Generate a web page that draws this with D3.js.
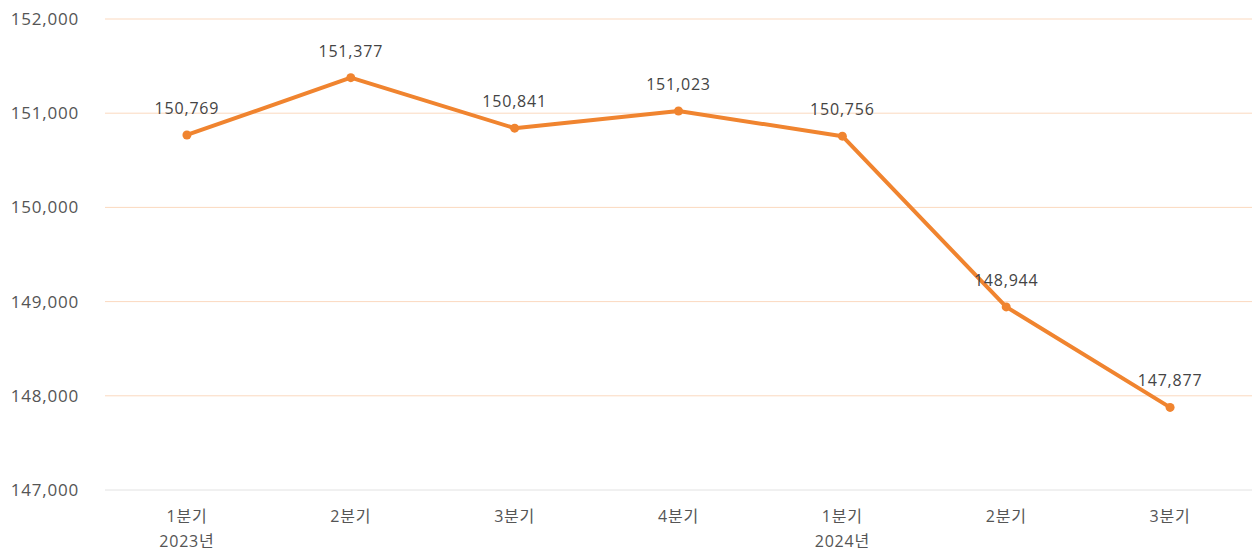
<!DOCTYPE html>
<html>
<head>
<meta charset="utf-8">
<script src="https://cdn.jsdelivr.net/npm/d3@7"></script>
<style>
  body { margin: 0; background: #fff; }
  svg text { font-family: 'Open Sans', 'Noto Sans CJK KR', sans-serif; letter-spacing: 0.8px; }
</style>
</head>
<body>
<div class="chart"></div>
<script>
const quarters = ['1분기', '2분기', '3분기', '4분기', '1분기', '2분기', '3분기'];
const years = ['2023년', '', '', '', '2024년', '', ''];
const values = [150769, 151377, 150841, 151023, 150756, 148944, 147877];
const yTicks = [147000, 148000, 149000, 150000, 151000, 152000];

const width = 1255;
const height = 552;
const margin = { top: 19, right: 3, bottom: 62, left: 105 };

const svg = d3.select('.chart')
    .append('svg')
    .attr('width', width)
    .attr('height', height);

const x = d3.scaleBand()
    .domain(d3.range(values.length))
    .range([margin.left, width - margin.right]);

const y = d3.scaleLinear()
    .domain([147000, 152000])
    .range([height - margin.bottom, margin.top]);

const fmt = d3.format(',');
const cx = i => x(i) + x.bandwidth() / 2;

// grid lines
svg.append('g')
    .selectAll('line')
    .data(yTicks)
    .enter()
    .append('line')
    .attr('x1', margin.left)
    .attr('x2', width - margin.right)
    .attr('y1', d => y(d))
    .attr('y2', d => y(d))
    .attr('stroke', d => d === 147000 ? '#e2e2e2' : '#fbd9bf')
    .attr('stroke-width', 1);

// y labels
svg.append('g')
    .selectAll('text')
    .data(yTicks)
    .enter()
    .append('text')
    .attr('x', 79)
    .attr('y', d => y(d))
    .attr('dy', '0.35em')
    .attr('text-anchor', 'end')
    .attr('fill', '#555')
    .style('font-size', '17px')
    .text(d => fmt(d));

// x labels
const xLabels = svg.append('g')
    .selectAll('g')
    .data(quarters)
    .enter()
    .append('g')
    .attr('transform', (d, i) => `translate(${cx(i)},0)`);

xLabels.append('text')
    .attr('y', 522)
    .attr('text-anchor', 'middle')
    .attr('fill', '#555')
    .style('font-size', '16px')
    .text(d => d);

xLabels.append('text')
    .attr('y', 547)
    .attr('text-anchor', 'middle')
    .attr('fill', '#555')
    .style('font-size', '16px')
    .text((d, i) => years[i]);

// line
const line = d3.line()
    .x((d, i) => cx(i))
    .y(d => y(d));

svg.append('path')
    .datum(values)
    .attr('fill', 'none')
    .attr('stroke', '#f0842f')
    .attr('stroke-width', 4)
    .attr('stroke-linejoin', 'round')
    .attr('d', line);

svg.append('g')
    .selectAll('circle')
    .data(values)
    .enter()
    .append('circle')
    .attr('cx', (d, i) => cx(i))
    .attr('cy', d => y(d))
    .attr('r', 4.5)
    .attr('fill', '#f0842f');

// value labels
svg.append('g')
    .selectAll('text')
    .data(values)
    .enter()
    .append('text')
    .attr('x', (d, i) => cx(i))
    .attr('y', d => y(d) - 21)
    .attr('text-anchor', 'middle')
    .attr('fill', '#444')
    .style('font-size', '16px')
    .text(d => fmt(d));
</script>
</body>
</html>
